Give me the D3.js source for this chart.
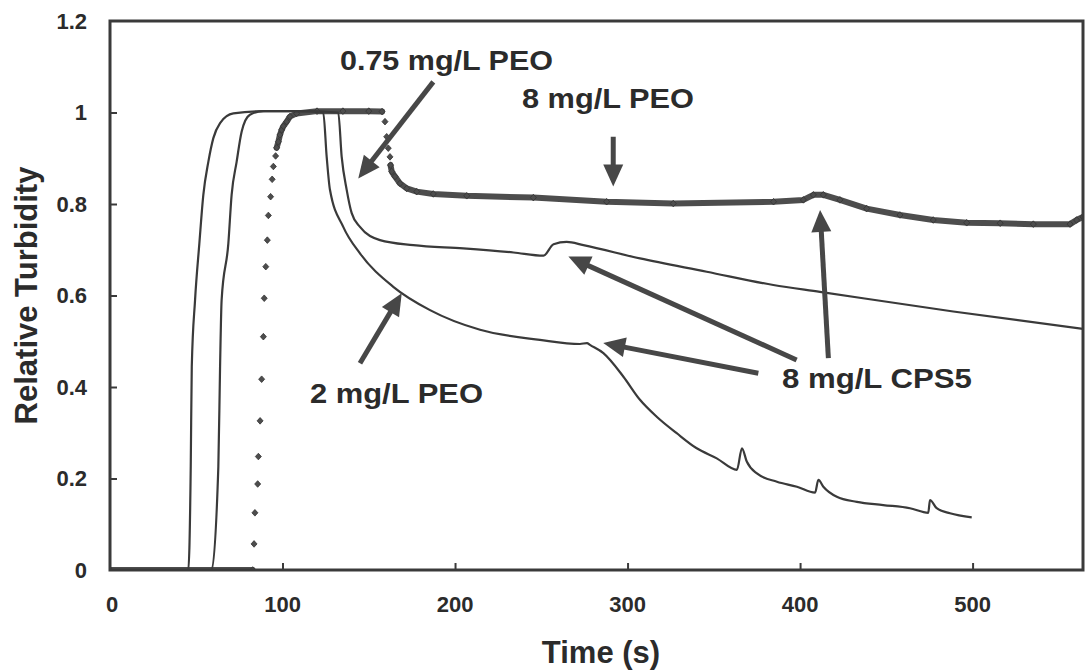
<!DOCTYPE html>
<html>
<head>
<meta charset="utf-8">
<script src="https://cdn.jsdelivr.net/npm/d3@7"></script>
<style>
  body { margin: 0; background: #fff; }
  svg { display: block; }
  text { font-family: "Liberation Sans", Arial, sans-serif; font-weight: bold; fill: #2b2b2b; }
</style>
</head>
<body>
<svg id="chart" width="1086" height="671"></svg>
<script>
// Relative turbidity against time (s) for each polymer dose.
const peo2 = [
  [0, 0], [45.4, 0], [46.8, 0.226], [47.4, 0.444], [49.3, 0.59], [51.8, 0.714], [54.1, 0.82],
  [57.0, 0.892], [59.9, 0.944], [63.8, 0.977], [71.5, 0.998], [90, 1.003], [110, 1.003],
  [123.6, 1.0], [125.6, 0.903], [127.5, 0.831], [135.2, 0.75], [144.9, 0.692], [164.2, 0.619],
  [185.5, 0.568], [214.5, 0.525], [249.2, 0.503], [272.4, 0.494], [276.5, 0.496], [278.2, 0.492],
  [286.0, 0.474], [297.5, 0.423], [307.2, 0.372], [316.9, 0.335], [328.5, 0.299], [340.1, 0.266],
  [351.7, 0.244], [363.4, 0.219], [366.3, 0.266], [369.1, 0.237], [375.0, 0.211], [386.6, 0.193],
  [398.2, 0.182], [408.7, 0.169], [410.6, 0.197], [413.5, 0.182], [421.3, 0.160], [432.9, 0.149],
  [448.2, 0.142], [463.7, 0.135], [474.3, 0.125], [475.3, 0.153], [479.2, 0.135], [486.9, 0.124],
  [499.5, 0.115]
];

const peo075 = [
  [0, 0], [58.9, 0], [62.8, 0.226], [63.8, 0.444], [64.7, 0.59], [68.6, 0.714], [70.5, 0.82],
  [73.4, 0.892], [76.3, 0.958], [81.1, 0.995], [88.9, 1.003], [110, 1.003], [132.3, 1.0],
  [134.3, 0.903], [137.2, 0.831], [140.1, 0.78], [144.9, 0.75], [156.5, 0.721], [175.8, 0.71],
  [204.8, 0.703], [233.9, 0.694], [251.3, 0.687], [257.1, 0.712], [264.7, 0.717], [274.4, 0.71],
  [307.2, 0.681], [345.9, 0.652], [384.5, 0.623], [411.5, 0.608], [488.8, 0.565], [564, 0.527]
];

const peo8 = [
  [0, 0], [82.7, 0], [83.5, 0.057], [84.0, 0.125], [85.6, 0.188], [86.0, 0.248], [87.0, 0.326],
  [87.9, 0.417], [88.9, 0.51], [89.4, 0.594], [90.3, 0.663], [91.2, 0.721], [91.8, 0.775],
  [93.1, 0.816], [94.0, 0.854], [94.7, 0.882], [96.0, 0.905], [96.6, 0.923], [97.6, 0.936],
  [98.5, 0.951], [99.5, 0.962], [100.5, 0.97], [102.4, 0.98], [104.3, 0.991], [108.2, 0.998],
  [120, 1.003], [135, 1.003], [150, 1.003], [157.7, 1.002], [159.4, 0.98], [160.4, 0.947],
  [161.3, 0.922], [162.3, 0.903], [162.6, 0.885], [163.3, 0.871], [165.2, 0.86], [168.1, 0.845],
  [172.0, 0.834], [177.8, 0.827], [187.4, 0.822], [206.8, 0.818], [245.4, 0.814], [287.9, 0.805],
  [326.5, 0.801], [384.6, 0.805], [401.9, 0.809], [407.7, 0.82], [413.5, 0.82], [423.1, 0.809],
  [438.6, 0.79], [457.9, 0.776], [477.2, 0.765], [496.6, 0.759], [516.0, 0.758], [535.2, 0.756],
  [556.5, 0.756], [560.3, 0.765], [564, 0.772]
];

const xTicks = [0, 100, 200, 300, 400, 500];
const yTicks = [0, 0.2, 0.4, 0.6, 0.8, 1.0, 1.2];
const yTickLabels = ["0", "0.2", "0.4", "0.6", "0.8", "1", "1.2"];

// Callouts: label text with its anchor (time, turbidity)
const labelText = ["0.75 mg/L PEO", "8 mg/L PEO", "2 mg/L PEO", "8 mg/L CPS5"];
const labelAt = [[133.3, 1.093], [238.8, 1.010], [115.9, 0.365], [389.5, 0.398]];
const labelWidth = [213, 172, 173, 190];

// Arrows: [tail, tip] in (time, turbidity)
const arrowTail = [[187.4, 1.067], [291.7, 0.947], [144.9, 0.452], [398.0, 0.459], [375.8, 0.430], [416.4, 0.463]];
const arrowTip  = [[143.9, 0.856], [291.7, 0.838], [169.1, 0.605], [265.7, 0.685], [285.9, 0.496], [411.6, 0.787]];

const svg = d3.select("#chart");
const x = d3.scaleLinear().domain([0, 564]).range([110, 1083]);
const y = d3.scaleLinear().domain([0, 1.2]).range([570, 21]);

const ink = "#3a3a3a";

svg.append("defs").append("clipPath").attr("id", "plot")
  .append("rect")
  .attr("x", x(0)).attr("y", y(1.2))
  .attr("width", x(564) - x(0)).attr("height", y(0) - y(1.2));

// Axes: inward ticks, frame drawn separately
const xAxis = svg.append("g").attr("transform", `translate(0,${y(0)})`)
  .call(d3.axisBottom(x).tickValues(xTicks.slice(1)).tickSizeInner(-7).tickSizeOuter(0).tickFormat(""));
xAxis.select(".domain").remove();
xAxis.selectAll("line").attr("stroke", ink).attr("stroke-width", 2);

const yAxis = svg.append("g").attr("transform", `translate(${x(0)},0)`)
  .call(d3.axisLeft(y).tickValues(yTicks.slice(1, -1)).tickSizeInner(-7).tickSizeOuter(0).tickFormat(""));
yAxis.select(".domain").remove();
yAxis.selectAll("line").attr("stroke", ink).attr("stroke-width", 2);

svg.append("g").selectAll("text").data(xTicks).join("text")
  .attr("x", d => x(d) + (d === 0 ? 2 : 0))
  .attr("y", 612)
  .attr("text-anchor", "middle")
  .style("font-size", "22px")
  .text(d => String(d));

svg.append("g").selectAll("text").data(yTicks).join("text")
  .attr("x", 87)
  .attr("y", d => y(d))
  .attr("dy", "0.36em")
  .attr("text-anchor", "end")
  .style("font-size", "22px")
  .text((d, i) => yTickLabels[i]);

svg.append("text")
  .attr("x", 601).attr("y", 663)
  .attr("text-anchor", "middle")
  .style("font-size", "31px")
  .text("Time (s)");

svg.append("text")
  .attr("transform", `translate(37,${y(0.6)}) rotate(-90)`)
  .attr("text-anchor", "middle")
  .style("font-size", "31px")
  .text("Relative Turbidity");

const plot = svg.append("g").attr("clip-path", "url(#plot)");

const line = d3.line().x(d => x(d[0])).y(d => y(d[1])).curve(d3.curveMonotoneX);

// 8 mg/L PEO: diamond markers; where samples sit close together the markers run into a solid band,
// on the steep rise and drop they stand apart
const runs = [];
let run = [peo8[0]];
for (let i = 1; i < peo8.length; i++) {
  const dy = Math.abs(y(peo8[i][1]) - y(peo8[i - 1][1]));
  const dx = Math.abs(x(peo8[i][0]) - x(peo8[i - 1][0]));
  if (dy > 7.5 && dy > dx) { runs.push(run); run = [peo8[i]]; }
  else run.push(peo8[i]);
}
runs.push(run);

plot.append("g").selectAll("path").data(runs.filter(r => r.length > 1)).join("path")
  .attr("d", d3.line().x(d => x(d[0])).y(d => y(d[1])))
  .attr("fill", "none")
  .attr("stroke", "#4d4d4d")
  .attr("stroke-width", 6)
  .attr("stroke-linejoin", "round")
  .attr("stroke-linecap", "round");

plot.append("g").selectAll("path").data(peo8).join("path")
  .attr("transform", d => `translate(${x(d[0])},${y(d[1])})`)
  .attr("d", "M0,-3.3L3,0L0,3.3L-3,0Z")
  .attr("fill", "#4d4d4d")
  .attr("stroke", "#333")
  .attr("stroke-width", 0.8);

[peo2, peo075].forEach(series => {
  plot.append("path")
    .datum(series)
    .attr("d", line)
    .attr("fill", "none")
    .attr("stroke", ink)
    .attr("stroke-width", 2.2)
    .attr("stroke-linejoin", "round");
});

// Plot frame
svg.append("rect")
  .attr("x", x(0)).attr("y", y(1.2))
  .attr("width", x(564) - x(0)).attr("height", y(0) - y(1.2))
  .attr("fill", "none")
  .attr("stroke", ink)
  .attr("stroke-width", 3);

// Callout arrows
const arrows = svg.append("g");
arrowTail.forEach((tail, i) => {
  const tip = arrowTip[i];
  const x0 = x(tail[0]), y0 = y(tail[1]), x1 = x(tip[0]), y1 = y(tip[1]);
  const len = Math.hypot(x1 - x0, y1 - y0);
  const ux = (x1 - x0) / len, uy = (y1 - y0) / len;
  const headLen = 22, half = 10;
  const bx = x1 - ux * headLen, by = y1 - uy * headLen;
  arrows.append("line")
    .attr("x1", x0).attr("y1", y0).attr("x2", bx + ux * 2).attr("y2", by + uy * 2)
    .attr("stroke", "#474747").attr("stroke-width", 5);
  arrows.append("path")
    .attr("d", `M${x1},${y1}L${bx - uy * half},${by + ux * half}L${bx + uy * half},${by - ux * half}Z`)
    .attr("fill", "#474747");
});

svg.append("g").selectAll("text").data(labelText).join("text")
  .attr("x", (d, i) => x(labelAt[i][0]))
  .attr("y", (d, i) => y(labelAt[i][1]))
  .attr("textLength", (d, i) => labelWidth[i])
  .attr("lengthAdjust", "spacingAndGlyphs")
  .style("font-size", "28px")
  .text(d => d);
</script>
</body>
</html>
